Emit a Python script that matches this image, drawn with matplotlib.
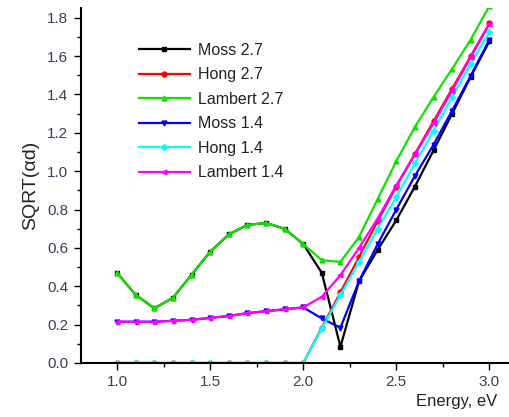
import matplotlib
matplotlib.use("Agg")
import matplotlib.pyplot as plt
from matplotlib.ticker import MultipleLocator

plt.rcParams['font.family'] = ['Liberation Sans', 'DejaVu Sans']

energy = [1.0, 1.1, 1.2, 1.3, 1.4, 1.5, 1.6, 1.7, 1.8, 1.9, 2.0,
          2.1, 2.2, 2.3, 2.4, 2.5, 2.6, 2.7, 2.8, 2.9, 3.0]

moss_27 = [0.47, 0.355, 0.285, 0.34, 0.46, 0.58, 0.67, 0.72, 0.73, 0.70, 0.62,
           0.47, 0.085, 0.427, 0.59, 0.744, 0.92, 1.108, 1.30, 1.493, 1.677]
hong_27 = [0.0, 0.0, 0.0, 0.0, 0.0, 0.0, 0.0, 0.0, 0.0, 0.0, 0.0,
           0.184, 0.368, 0.553, 0.74, 0.92, 1.09, 1.26, 1.43, 1.60, 1.77]
lambert_27 = [0.47, 0.355, 0.285, 0.34, 0.46, 0.58, 0.67, 0.72, 0.73, 0.70, 0.62,
              0.536, 0.527, 0.657, 0.854, 1.052, 1.23, 1.386, 1.533, 1.686, 1.86]
moss_14 = [0.215, 0.215, 0.215, 0.22, 0.225, 0.235, 0.245, 0.26, 0.27, 0.28, 0.29,
           0.232, 0.184, 0.427, 0.62, 0.80, 0.975, 1.138, 1.316, 1.498, 1.684]
hong_14 = [0.0, 0.0, 0.0, 0.0, 0.0, 0.0, 0.0, 0.0, 0.0, 0.0, 0.0,
           0.18, 0.354, 0.527, 0.70, 0.865, 1.04, 1.21, 1.386, 1.56, 1.724]
lambert_14 = [0.215, 0.215, 0.215, 0.22, 0.225, 0.235, 0.245, 0.26, 0.27, 0.28, 0.29,
              0.345, 0.458, 0.60, 0.753, 0.926, 1.087, 1.25, 1.42, 1.594, 1.767]

series = [
    ("Moss 2.7", moss_27, "#000000", "s"),
    ("Hong 2.7", hong_27, "#ff0000", "o"),
    ("Lambert 2.7", lambert_27, "#11e000", "^"),
    ("Moss 1.4", moss_14, "#0000ff", "v"),
    ("Hong 1.4", hong_14, "#00ffff", "D"),
    ("Lambert 1.4", lambert_14, "#ff00ff", "<"),
]

fig = plt.figure(figsize=(5.09, 4.17), dpi=100)
ax = fig.add_axes([0.159, 0.1295, 0.839, 0.852])

for name, vals, col, mk in series:
    ms = 3.5 if mk != "D" else 3
    ax.plot(energy, vals, color=col, marker=mk, markersize=ms, linewidth=1.6,
            label=name, clip_on=True)

ax.set_xlim(0.806, 3.1)
ax.set_ylim(0.0, 1.852)
ax.xaxis.set_major_locator(MultipleLocator(0.5))
ax.xaxis.set_minor_locator(MultipleLocator(0.25))
ax.yaxis.set_major_locator(MultipleLocator(0.2))
ax.yaxis.set_minor_locator(MultipleLocator(0.1))
ax.xaxis.set_major_formatter(plt.FormatStrFormatter('%.1f'))
ax.yaxis.set_major_formatter(plt.FormatStrFormatter('%.1f'))

for s in ['top', 'right']:
    ax.spines[s].set_visible(False)
for s in ['left', 'bottom']:
    ax.spines[s].set_linewidth(1.5)

tick_color = '#3a3f55'
ax.tick_params(axis='both', which='major', direction='out', length=5, width=1,
               labelsize=11, labelcolor=tick_color, pad=4)
ax.tick_params(axis='both', which='minor', direction='out', length=3, width=1)

ax.set_ylabel("SQRT(αd)", fontsize=14, color='#222222', labelpad=6)
fig.text(0.977, 0.02, "Energy, eV", fontsize=12, color='#222222', ha='right', va='bottom')

leg = ax.legend(loc='upper left', bbox_to_anchor=(0.12, 0.92), frameon=False,
                fontsize=11.5, handlelength=3.2, handletextpad=0.5,
                labelspacing=0.6, borderaxespad=0)
for t in leg.get_texts():
    t.set_color('#222222')

fig.savefig("out.png", dpi=100)
